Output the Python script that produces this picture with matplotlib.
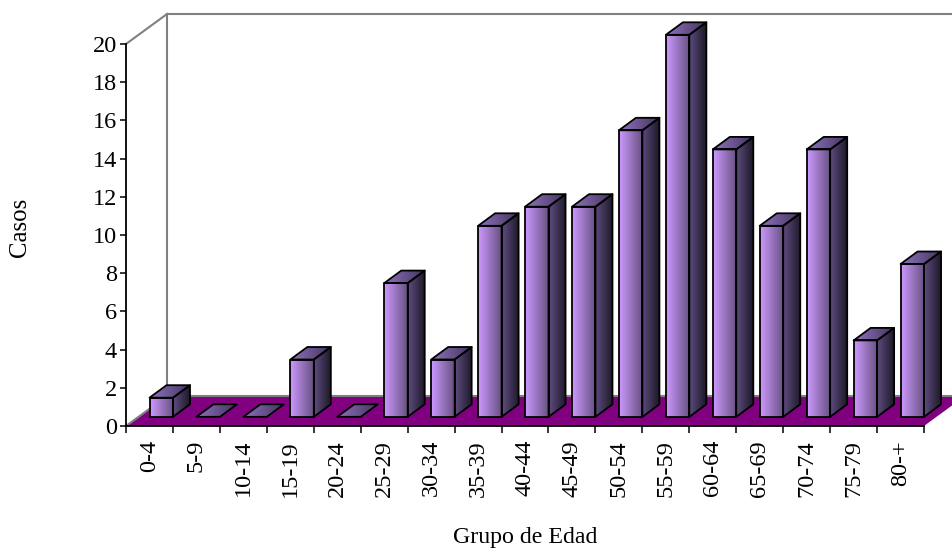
import matplotlib
matplotlib.use("Agg")
import matplotlib.pyplot as plt
import numpy as np
from matplotlib.patches import Polygon

plt.rcParams['font.family'] = ['Liberation Serif', 'DejaVu Serif']

grupos = ["0-4", "5-9", "10-14", "15-19", "20-24", "25-29", "30-34", "35-39", "40-44",
          "45-49", "50-54", "55-59", "60-64", "65-69", "70-74", "75-79", "80-+"]
casos = [1, 0, 0, 3, 0, 7, 3, 10, 11, 11, 15, 20, 14, 10, 14, 4, 8]

W, H = 953, 549
fig = plt.figure(figsize=(W / 100, H / 100), dpi=100)
# front plane of the 3d box, sizes in pixels
ax = fig.add_axes([126 / W, 1 - 426 / H, 798 / W, 382 / H])
ax.set_xlim(0, 17)
ax.set_ylim(0, 20)
ax.patch.set_visible(False)

px = 17 / 798
py = 20 / 382


def cara(puntos, c1, c2, z):
    # polygon filled with a left to right gradient
    puntos = np.array(puntos)
    cmap = matplotlib.colors.LinearSegmentedColormap.from_list("g", [c1, c2])
    x0, x1 = puntos[:, 0].min(), puntos[:, 0].max()
    y0, y1 = puntos[:, 1].min(), puntos[:, 1].max()
    if y1 - y0 > 0:
        im = ax.imshow(np.linspace(0, 1, 64).reshape(1, -1), extent=(x0, x1, y0, y1), aspect="auto",
                       cmap=cmap, zorder=z, interpolation="bilinear")
        pol = Polygon(puntos, transform=ax.transData)
        im.set_clip_path(pol)
        im.set_clip_box(fig.bbox)
    ax.add_patch(Polygon(puntos, fill=False, ec="black", lw=1.3, zorder=z + 0.1, clip_on=False,
                         joinstyle="round"))


# floor and back wall
dx = 41 * px
dy = 30 * py
ax.add_patch(Polygon([(0, 0), (17, 0), (17 + dx, dy), (dx, dy)], fc="#800080", ec="none", zorder=1, clip_on=False))
gris = "#808080"
ax.plot([dx, 17 + dx], [dy, dy], color=gris, lw=1.5, zorder=1.5, clip_on=False)
ax.plot([0, dx], [0, dy], color=gris, lw=1.5, zorder=1.5, clip_on=False)
ax.plot([dx, dx], [dy, 20 + dy], color=gris, lw=1.5, zorder=1.5, clip_on=False)
ax.plot([dx, 17 + dx], [20 + dy, 20 + dy], color=gris, lw=1.5, zorder=1.5, clip_on=False)
ax.plot([0, dx], [20, 20 + dy], color=gris, lw=1.5, zorder=1.5, clip_on=False)

# bars
ox = 11.8 * px
oy = 9.2 * py
fx = 17 * px
fy = 12.5 * py
ancho = 0.5
for i, v in enumerate(casos):
    x0 = i + 0.25 + ox
    x1 = x0 + ancho
    y0 = oy
    y1 = oy + v
    z = 2 + i
    if v > 0:
        cara([(x0, y0), (x1, y0), (x1, y1), (x0, y1)], "#CC99FF", "#66507F", z)
        cara([(x1, y0), (x1 + fx, y0 + fy), (x1 + fx, y1 + fy), (x1, y1)], "#5E4B80", "#1E1A28", z)
    cara([(x0, y1), (x1, y1), (x1 + fx, y1 + fy), (x0 + fx, y1 + fy)], "#8F72BD", "#43355F", z)

ax.set_xlim(0, 17)
ax.set_ylim(0, 20)

for s in ["top", "right"]:
    ax.spines[s].set_visible(False)
for s in ["left", "bottom"]:
    ax.spines[s].set_linewidth(1.3)
    ax.spines[s].set_zorder(30)

ax.set_yticks(np.arange(0, 21, 2))
ax.tick_params(axis="y", labelsize=17.5, length=4.5, width=1.1, pad=2)
ax.set_xticks(np.arange(0, 18))
ax.set_xticklabels([])
ax.set_xticks(np.arange(17) + 0.5, minor=True)
ax.set_xticklabels(grupos, minor=True, rotation=90, fontsize=17.5)
ax.tick_params(axis="x", which="major", length=5, width=1.1)
ax.tick_params(axis="x", which="minor", length=0, pad=10)

fig.text(525 / W, 1 - 537 / H, "Grupo de Edad", ha="center", va="center", fontsize=17.2)
fig.text(20 / W, 1 - 227 / H, "Casos", ha="center", va="center", rotation=90, fontsize=17.8)

fig.savefig("out.png", dpi=100)
